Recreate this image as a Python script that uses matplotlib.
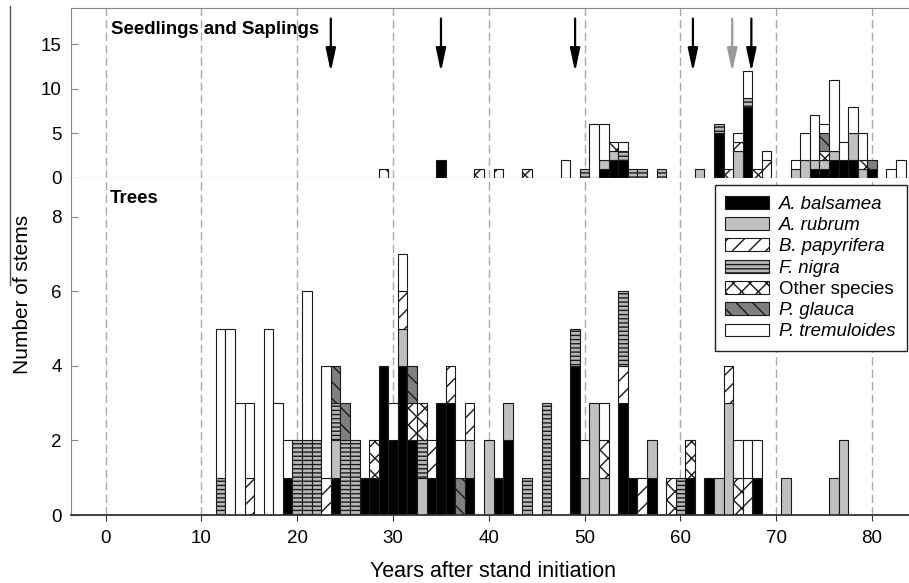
import matplotlib
matplotlib.use('Agg')
import matplotlib.pyplot as plt
from matplotlib.patches import Patch

plt.rcParams['font.family'] = ['Liberation Sans', 'DejaVu Sans']
plt.rcParams['hatch.linewidth'] = 1.0

# stacking order, bottom -> top (same as legend)
species = ['A. balsamea', 'A. rubrum', 'B. papyrifera', 'F. nigra',
           'Other species', 'P. glauca', 'P. tremuloides']
face = ['#000000', '#c0c0c0', '#ffffff', '#b8b8b8', '#ffffff', '#808080', '#ffffff']
hatches = [None, None, '//', '----', 'xx', '\\\\', None]
italic = [True, True, True, True, False, True, True]

# Seedlings and saplings, {year: stems}
sap_balsamea = {35: 2, 52: 1, 53: 2, 54: 2, 64: 5, 67: 8, 74: 1, 75: 1, 76: 2, 77: 2, 78: 2, 80: 1}
sap_rubrum = {52: 1, 53: 1, 62: 1, 66: 3, 72: 1, 73: 2, 74: 1, 75: 1, 76: 1, 78: 3, 79: 1}
sap_papyrifera = {69: 2}
sap_nigra = {50: 1, 54: 1, 55: 1, 56: 1, 58: 1, 64: 1, 67: 1}
sap_other = {29: 1, 39: 1, 41: 1, 44: 1, 53: 1, 65: 1, 66: 1, 68: 1, 75: 1, 79: 1}
sap_glauca = {75: 2, 80: 1}
sap_tremuloides = {48: 2, 51: 6, 52: 4, 54: 1, 66: 1, 67: 3, 69: 1, 72: 1, 73: 3, 74: 5,
                   75: 1, 76: 8, 77: 2, 78: 3, 79: 3, 82: 1, 83: 2}

# Trees, {year: stems}
tree_balsamea = {19: 1, 24: 1, 27: 1, 28: 1, 29: 4, 30: 2, 31: 4, 32: 2, 34: 1, 35: 3, 36: 3,
                 38: 1, 41: 1, 42: 2, 49: 4, 54: 3, 55: 1, 57: 1, 61: 1, 63: 1, 68: 1}
tree_rubrum = {24: 1, 31: 1, 33: 1, 38: 1, 40: 2, 42: 1, 50: 1, 51: 3, 52: 1, 57: 1, 64: 1,
               65: 3, 71: 1, 76: 1, 77: 2}
tree_papyrifera = {15: 1, 23: 1, 31: 1, 34: 1, 36: 1, 38: 1, 54: 1, 56: 1, 65: 1, 67: 1}
tree_nigra = {12: 1, 20: 2, 21: 2, 22: 2, 24: 1, 25: 2, 26: 2, 33: 1, 44: 1, 46: 3, 49: 1,
              54: 2, 60: 1}
tree_other = {28: 1, 32: 1, 33: 1, 52: 1, 59: 1, 61: 1, 66: 1}
tree_glauca = {24: 1, 25: 1, 32: 1, 37: 1}
tree_tremuloides = {12: 4, 13: 5, 14: 3, 15: 2, 17: 5, 18: 3, 19: 1, 21: 4, 23: 3, 30: 1,
                    31: 1, 37: 1, 50: 1, 52: 1, 66: 1, 67: 1, 68: 1}

arrow_years = [23.5, 35, 49, 61.3, 65.4, 67.4]
arrow_colors = ['black', 'black', 'black', 'black', '#999999', 'black']


def stack(ax, data):
    bottom = {}
    for d, fc, h in zip(data, face, hatches):
        xs = sorted(d)
        hs = [d[y] for y in xs]
        bs = [bottom.get(y, 0) for y in xs]
        ax.bar(xs, hs, width=1, bottom=bs, color=fc, hatch=h,
               edgecolor='#1a1a1a', linewidth=0.8, zorder=2)
        for y in xs:
            bottom[y] = bottom.get(y, 0) + d[y]


fig = plt.figure(figsize=(9.09, 5.83), dpi=100)
W, H = 909.0, 583.0
x0, x1 = 70.7, 914.5
ax_top = fig.add_axes([x0 / W, 1 - 177.7 / H, (x1 - x0) / W, (177.7 - 8.3) / H])
ax_bot = fig.add_axes([x0 / W, 1 - 515 / H, (x1 - x0) / W, (515 - 177.7) / H])

xlim = (-3.65, -3.65 + (x1 - x0) / 9.58)
for ax in (ax_top, ax_bot):
    ax.set_xlim(*xlim)
    for v in range(0, 90, 10):
        ax.axvline(v, color='#aaaaaa', lw=1.0, ls=(0, (6, 3)), zorder=0)
    ax.spines['right'].set_visible(False)
    ax.spines['left'].set_color('#888888')
    ax.tick_params(axis='y', direction='in', length=5, color='#888888',
                   labelsize=13.5, pad=6.5)

stack(ax_top, [sap_balsamea, sap_rubrum, sap_papyrifera, sap_nigra,
               sap_other, sap_glauca, sap_tremuloides])
stack(ax_bot, [tree_balsamea, tree_rubrum, tree_papyrifera, tree_nigra,
               tree_other, tree_glauca, tree_tremuloides])

# top panel
ax_top.set_ylim(0, 169.4 / 8.89)
ax_top.set_yticks([0, 5, 10, 15])
ax_top.set_xticks([])
ax_top.spines['top'].set_color('#888888')
ax_top.spines['bottom'].set_color('#888888')
ax_top.text(0.0474, 0.851, 'Seedlings and Saplings', transform=ax_top.transAxes,
            fontsize=13.4, fontweight='bold', va='baseline', ha='left')
for xa, c in zip(arrow_years, arrow_colors):
    ax_top.annotate('', xy=(xa, 11.9), xytext=(xa, 17.9),
                    arrowprops=dict(arrowstyle='-|>,head_length=14,head_width=3',
                                    mutation_scale=1, lw=1.6, color=c,
                                    shrinkA=0, shrinkB=0), zorder=3)

# bottom panel
ax_bot.set_ylim(0, 337.3 / 37.3)
ax_bot.set_yticks([0, 2, 4, 6, 8])
ax_bot.spines['top'].set_visible(False)
ax_bot.spines['bottom'].set_color('#333333')
ax_bot.spines['bottom'].set_linewidth(1.3)
ax_bot.set_xticks(range(0, 90, 10))
ax_bot.tick_params(axis='x', direction='out', length=4, color='#333333',
                   labelsize=13.5, pad=7)
ax_bot.set_xlabel('Years after stand initiation', fontsize=15.5, labelpad=10)
ax_bot.text(0.0466, 0.924, 'Trees', transform=ax_bot.transAxes,
            fontsize=13.4, fontweight='bold', va='baseline', ha='left')

fig.text(23 / W, 1 - 294 / H, 'Number of stems', rotation=90,
         ha='center', va='center', fontsize=15)
fig.add_artist(plt.Line2D([10 / W, 10 / W], [1 - 6 / H, 1 - 285 / H],
                          color='#555555', lw=1.0, transform=fig.transFigure))

handles = [Patch(facecolor=fc, hatch=h, edgecolor='#1a1a1a', linewidth=0.8)
           for fc, h in zip(face, hatches)]
leg = ax_bot.legend(handles, species, loc='upper right',
                    bbox_to_anchor=(906.7 / W, 1 - 185 / H),
                    bbox_transform=fig.transFigure, fontsize=13.4,
                    handlelength=2.35, handleheight=0.68, handletextpad=0.55,
                    labelspacing=0.23, borderpad=0.58, borderaxespad=0,
                    fancybox=False, framealpha=1, edgecolor='#222222')
leg.get_frame().set_linewidth(1.0)
leg.set_zorder(5)
for t, it in zip(leg.get_texts(), italic):
    if it:
        t.set_style('italic')

fig.savefig('out.png', dpi=100)
